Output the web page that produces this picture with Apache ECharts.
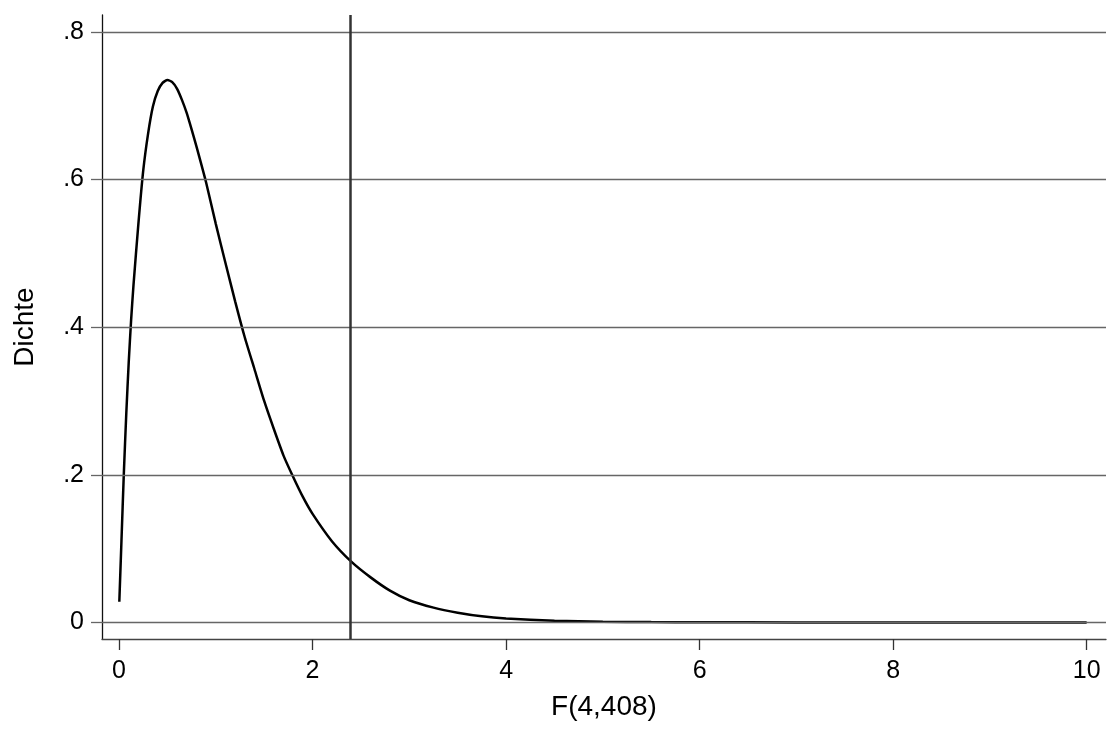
<!DOCTYPE html>
<html>
<head>
<meta charset="utf-8">
<script src="https://cdn.jsdelivr.net/npm/echarts@6/dist/echarts.min.js"></script>
<style>
html,body{margin:0;padding:0;background:#fff;}
#chart{width:1119px;height:731px;}
</style>
</head>
<body>
<div id="chart"></div>
<script>
// F values (x axis) and density values
const fValues = [0.003, 0.025, 0.05, 0.075, 0.1, 0.125, 0.15, 0.2, 0.25, 0.3, 0.35, 0.4, 0.45, 0.5, 0.55, 0.6, 0.65, 0.7, 0.75, 0.8, 0.9, 1.0, 1.1, 1.2, 1.3, 1.4, 1.5, 1.6, 1.7, 1.8, 1.9, 2.0, 2.2, 2.4, 2.6, 2.8, 3.0, 3.25, 3.5, 3.75, 4.0, 4.5, 5.0, 5.5, 6, 7, 8, 9, 10];
const density = [0.028, 0.11, 0.203, 0.283, 0.352, 0.41, 0.458, 0.540, 0.612, 0.662, 0.699, 0.720, 0.731, 0.735, 0.732, 0.723, 0.708, 0.690, 0.668, 0.645, 0.596, 0.540, 0.487, 0.435, 0.386, 0.343, 0.300, 0.262, 0.226, 0.197, 0.170, 0.147, 0.110, 0.0823, 0.061, 0.043, 0.030, 0.020, 0.0132, 0.0083, 0.0054, 0.0022, 0.0009, 0.0004, 0.0001, 0, 0, 0, 0];
const criticalF = 2.39;
const xTicks = [0, 2, 4, 6, 8, 10];
const yTicks = [0, 0.2, 0.4, 0.6, 0.8];
const yTickLabels = ['0', '.2', '.4', '.6', '.8'];
const xTitle = 'F(4,408)';
const yTitle = 'Dichte';

const curve = fValues.map((x, i) => [x, density[i]]);
const font = "'Liberation Sans', Arial, Helvetica, sans-serif";

const chart = echarts.init(document.getElementById('chart'), null, {renderer: 'canvas'});
chart.setOption({
  animation: false,
  backgroundColor: '#ffffff',
  grid: {left: 102, right: 13, top: 15, bottom: 92, outerBoundsMode: 'none', containLabel: false},
  xAxis: {
    type: 'value',
    min: -0.176,
    max: 10.2,
    name: xTitle,
    nameLocation: 'middle',
    nameGap: 54,
    nameTextStyle: {fontFamily: font, fontSize: 28, color: '#000'},
    axisLine: {show: true, onZero: false, lineStyle: {color: '#444', width: 1.3}},
    axisTick: {show: true, length: 11, customValues: xTicks, lineStyle: {color: '#333', width: 1.3}},
    axisLabel: {show: true, customValues: xTicks, margin: 20, fontFamily: font, fontSize: 25, color: '#000'},
    splitLine: {show: false}
  },
  yAxis: {
    type: 'value',
    min: -0.0225,
    max: 0.823,
    name: yTitle,
    nameLocation: 'middle',
    nameGap: 63,
    nameRotate: 90,
    nameTextStyle: {fontFamily: font, fontSize: 28, color: '#000'},
    axisLine: {show: true, onZero: false, lineStyle: {color: '#111', width: 1.3}},
    axisTick: {show: true, length: 11, customValues: yTicks, lineStyle: {color: '#666', width: 1.3}},
    axisLabel: {show: true, customValues: yTicks, margin: 18, fontFamily: font, fontSize: 25, color: '#000',
      formatter: function (v) { const i = yTicks.findIndex(t => Math.abs(t - v) < 1e-9); return i >= 0 ? yTickLabels[i] : ''; }},
    splitLine: {show: false}
  },
  series: [
    {
      type: 'line',
      data: [],
      silent: true,
      z: 1,
      markLine: {
        silent: true,
        symbol: 'none',
        label: {show: false},
        lineStyle: {color: '#666', width: 1.3, type: 'solid'},
        data: yTicks.map(v => ({yAxis: v}))
      }
    },
    {
      type: 'line',
      data: curve,
      showSymbol: false,
      smooth: 0.2,
      z: 3,
      lineStyle: {color: '#000', width: 2.5},
      markLine: {
        silent: true,
        symbol: 'none',
        label: {show: false},
        lineStyle: {color: '#333', width: 2.5, type: 'solid'},
        data: [{xAxis: criticalF}]
      }
    }
  ]
});
</script>
</body>
</html>
